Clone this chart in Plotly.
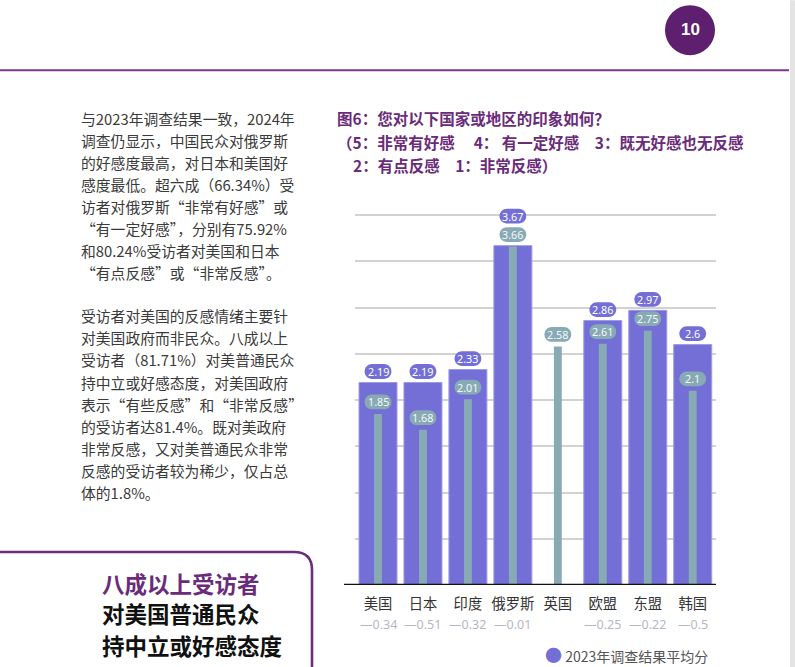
import plotly.graph_objects as go

# ---------------- data ----------------
categories = ["美国", "日本", "印度", "俄罗斯", "英国", "欧盟", "东盟", "韩国"]
score_2023 = [2.19, 2.19, 2.33, 3.67, None, 2.86, 2.97, 2.6]
score_2024 = [1.85, 1.68, 2.01, 3.66, 2.58, 2.61, 2.75, 2.1]
grid_vals = [0, 0.5, 1.0, 1.5, 2.0, 2.5, 3.0, 3.5, 4.0]

title_lines = [
    "图6：您对以下国家或地区的印象如何？",
    "（5：非常有好感\u3000 4：\u00a0有一定好感\u30003：既无好感也无反感",
    "2：有点反感\u30001：非常反感）",
]
para1 = [
    "与2023年调查结果一致，2024年",
    "调查仍显示，中国民众对俄罗斯",
    "的好感度最高，对日本和美国好",
    "感度最低。超六成（66.34%）受",
    "访者对俄罗斯“非常有好感”或",
    "“有一定好感”，分别有75.92%",
    "和80.24%受访者对美国和日本",
    "“有点反感”或“非常反感”。",
]
para2 = [
    "受访者对美国的反感情绪主要针",
    "对美国政府而非民众。八成以上",
    "受访者（81.71%）对美普通民众",
    "持中立或好感态度，对美国政府",
    "表示“有些反感”和“非常反感”",
    "的受访者达81.4%。既对美政府",
    "非常反感，又对美普通民众非常",
    "反感的受访者较为稀少，仅占总",
    "体的1.8%。",
]
callout = ["八成以上受访者", "对美国普通民众", "持中立或好感态度"]
legend_label = "2023年调查结果平均分"
page_no = "10"

# ---------------- styling ----------------
PURPLE = "#736fd6"
TEAL = "#88aab5"
DARK = "#6a2b7a"
CJK = "Noto Sans CJK SC"

Y_TOP = 4.25                      # axis range top (gridlines stop at 4.0)
B = 585                           # baseline pixel
UNIT = 92.5                       # pixels per score unit
L, R = 355, 716
T = B - Y_TOP * UNIT
W, H = R - L, B - T


def px(x):
    return (x - L) / W


def py(y):
    return (B - y) / H


def pill(cy, hw=13.4, r=7.4):
    k = 0.5523 * r
    t, b = cy + r, cy - r
    return (f"M{-hw + r},{t} L{hw - r},{t} C{hw - r + k},{t} {hw},{cy + k} {hw},{cy} "
            f"C{hw},{cy - k} {hw - r + k},{b} {hw - r},{b} L{-hw + r},{b} "
            f"C{-hw + r - k},{b} {-hw},{cy - k} {-hw},{cy} C{-hw},{cy + k} {-hw + r - k},{t} {-hw + r},{t} Z")


xs = list(range(len(categories)))
fig = go.Figure()
fig.add_trace(go.Bar(x=xs, y=score_2023, width=0.845, marker=dict(color=PURPLE, line=dict(color="#9d9ae8", width=1)),
                     name=legend_label, hoverinfo="skip"))
fig.add_trace(go.Bar(x=xs, y=score_2024, width=0.175, marker=dict(color=TEAL, line=dict(width=0)),
                     name="2024", hoverinfo="skip"))

shapes = []
annotations = []

# value pills
for i, (a, b) in enumerate(zip(score_2023, score_2024)):
    tshift = 12
    shapes.append(dict(type="path", xref="x", yref="y", xsizemode="pixel", ysizemode="pixel",
                       xanchor=i, yanchor=b, path=pill(tshift), fillcolor=TEAL, line=dict(width=0), layer="above"))
    annotations.append(dict(x=i, y=b, xref="x", yref="y", yshift=tshift, text=f"{b:g}", showarrow=False,
                            xanchor="center", font=dict(family="Noto Sans", size=10.8, color="#f4f8f9"),
                            yanchor="middle"))
    if a is not None:
        if abs(a - b) * UNIT < 16:
            anchor, pshift = b, tshift + 18.5
        else:
            anchor, pshift = a, 11
        shapes.append(dict(type="path", xref="x", yref="y", xsizemode="pixel", ysizemode="pixel",
                           xanchor=i, yanchor=anchor, path=pill(pshift), fillcolor=PURPLE, line=dict(width=0),
                           layer="above"))
        annotations.append(dict(x=i, y=anchor, xref="x", yref="y", yshift=pshift, text=f"{a:g}", showarrow=False,
                                xanchor="center", font=dict(family="Noto Sans", size=10.8, color="white"),
                                yanchor="middle"))
        d = round(b - a, 2)
        annotations.append(dict(x=i, y=py(625), xref="x", yref="paper", text=f"—{abs(d):g}", showarrow=False,
                                xanchor="center", font=dict(family="Noto Sans", size=12.5, color="#b5b7c4"),
                                yanchor="middle"))

# baseline
shapes.append(dict(type="line", xref="paper", yref="y", x0=px(344), x1=px(716), y0=0, y1=0,
                   line=dict(color="#111111", width=2.6), layer="above"))

# page decorations
shapes.append(dict(type="line", xref="paper", yref="paper", x0=px(0), x1=px(789), y0=py(70), y1=py(70),
                   line=dict(color="#7a3a8c", width=2)))
shapes.append(dict(type="circle", xref="paper", yref="paper", x0=px(665), x1=px(715), y0=py(55), y1=py(5),
                   fillcolor="#5e1f6e", line=dict(width=0)))
shapes.append(dict(type="rect", xref="paper", yref="paper", x0=px(790), x1=px(796), y0=py(0), y1=py(668),
                   fillcolor="#e4e4e4", line=dict(width=0)))
box_path = (f"M{px(-10)},{py(552)} L{px(294)},{py(552)} Q{px(312)},{py(552)} {px(312)},{py(570)} "
            f"L{px(312)},{py(680)}")
shapes.append(dict(type="path", xref="paper", yref="paper", path=box_path,
                   line=dict(color="#6d2c7c", width=2.6)))

annotations.append(dict(x=px(690), y=py(29.5), xref="paper", yref="paper", text=f"<b>{page_no}</b>",
                        showarrow=False, xanchor="center", yanchor="middle",
                        font=dict(family="Liberation Sans", size=17, color="white")))

# chart title
title_pos = [(335, 118), (335, 142), (351, 164.5)]
for (tx, ty), line in zip(title_pos, title_lines):
    annotations.append(dict(x=px(tx), y=py(ty), xref="paper", yref="paper", text=f"<b>{line}</b>",
                            showarrow=False, xanchor="left", yanchor="middle",
                            font=dict(family=CJK, size=15.5, color=DARK)))

# body text
for j, line in enumerate(para1):
    annotations.append(dict(x=px(79), y=py(118 + 22.05 * j), xref="paper", yref="paper", text=line,
                            showarrow=False, xanchor="left", yanchor="middle",
                            font=dict(family=CJK, size=14.8, color="#3a3a3a")))
for j, line in enumerate(para2):
    annotations.append(dict(x=px(79), y=py(315.5 + 22.15 * j), xref="paper", yref="paper", text=line,
                            showarrow=False, xanchor="left", yanchor="middle",
                            font=dict(family=CJK, size=14.8, color="#3a3a3a")))

# callout box text
call_y = [583, 613, 645]
call_col = [DARK, "#111111", "#111111"]
for line, cy, cc in zip(callout, call_y, call_col):
    annotations.append(dict(x=px(100), y=py(cy), xref="paper", yref="paper", text=f"<b>{line}</b>",
                            showarrow=False, xanchor="left", yanchor="middle",
                            font=dict(family=CJK, size=22.5, color=cc)))

# legend
annotations.append(dict(x=px(543), y=py(655), xref="paper", yref="paper",
                        text=f"<span style='color:{PURPLE};font-size:17px'>●</span> {legend_label}",
                        showarrow=False, xanchor="left", yanchor="middle",
                        font=dict(family=CJK, size=14, color="#555555")))

fig.update_layout(
    width=795, height=667,
    margin=dict(l=L, r=795 - R, t=T, b=667 - B, pad=0),
    paper_bgcolor="white", plot_bgcolor="white",
    barmode="overlay", showlegend=False,
    shapes=shapes, annotations=annotations,
    xaxis=dict(range=[(L - 378) / 44.96, (R - 378) / 44.96], tickvals=xs, ticktext=categories,
               tickfont=dict(family=CJK, size=14.3, color="#333333"), showgrid=False, zeroline=False,
               showline=False, ticks="", ticklabelstandoff=9, fixedrange=True),
    yaxis=dict(range=[0, Y_TOP], tickvals=grid_vals, showticklabels=False, showgrid=True,
               gridcolor="#d2d2d2", gridwidth=1.5, zeroline=False, showline=False, fixedrange=True),
)

fig.write_html("out.html", config={"displayModeBar": False})
with open("out.html", encoding="utf-8") as f:
    html = f.read()
html = html.replace("<head>", "<head><style>html,body{margin:0;padding:0;overflow:hidden}</style>", 1)
with open("out.html", "w", encoding="utf-8") as f:
    f.write(html)
